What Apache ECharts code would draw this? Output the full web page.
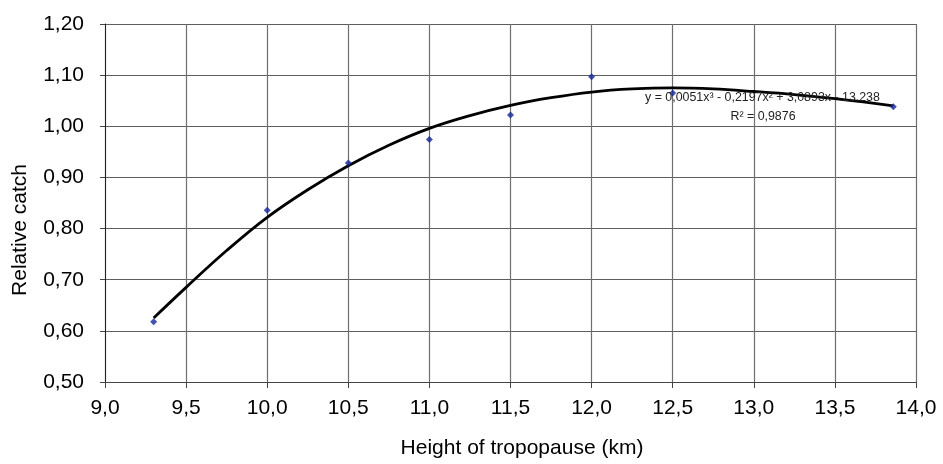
<!DOCTYPE html>
<html>
<head>
<meta charset="utf-8">
<script src="https://cdn.jsdelivr.net/npm/echarts@6/dist/echarts.min.js"></script>
<style>html,body{margin:0;padding:0;background:#fff;}#c{width:943px;height:464px;}</style>
</head>
<body>
<div id="c"></div>
<script>
// Observed points
const heights = [9.3, 10.0, 10.5, 11.0, 11.5, 12.0, 12.5, 13.86];
const catchValues = [0.618, 0.836, 0.928, 0.974, 1.022, 1.097, 1.065, 1.038];
// Polynomial trend line
const trendX = [9.3, 9.5, 9.75, 10.0, 10.25, 10.5, 10.75, 11.0, 11.25, 11.5, 11.75, 12.0, 12.25, 12.5, 12.75, 13.0, 13.25, 13.5, 13.86];
const trendY = [0.625, 0.685, 0.757, 0.822, 0.876, 0.923, 0.963, 0.996, 1.021, 1.041, 1.056, 1.067, 1.073, 1.075, 1.073, 1.068, 1.062, 1.054, 1.040];
const equationText = 'y = 0,0051x³ - 0,2197x² + 3,0893x - 13,238';
const r2Text = 'R² = 0,9876';
const xName = 'Height of tropopause (km)';
const yName = 'Relative catch';

const chart = echarts.init(document.getElementById('c'));
const font = 'Liberation Sans, Arial, sans-serif';
chart.setOption({
  animation: false,
  grid: {left: 105, right: 27, top: 24, bottom: 80},
  xAxis: {
    type: 'value', min: 9, max: 14, interval: 0.5,
    name: xName, nameLocation: 'middle', nameGap: 56,
    nameTextStyle: {fontFamily: font, fontSize: 21, color: '#000', padding: [0, 0, 0, 23]},
    axisLine: {show: true, onZero: false, lineStyle: {color: '#444', width: 1}},
    axisTick: {show: true, inside: false, length: 6, lineStyle: {color: '#444'}},
    axisLabel: {fontFamily: font, fontSize: 21, color: '#000', margin: 16,
      formatter: v => v.toFixed(1).replace('.', ',')},
    splitLine: {show: true, lineStyle: {color: '#6e6e6e', width: 1.2}}
  },
  yAxis: {
    type: 'value', min: 0.5, max: 1.2, interval: 0.1,
    axisLine: {show: true, lineStyle: {color: '#222', width: 1}},
    axisTick: {show: true, inside: false, length: 5, lineStyle: {color: '#444'}},
    axisLabel: {fontFamily: font, fontSize: 21, color: '#000', margin: 21,
      formatter: v => v.toFixed(2).replace('.', ',')},
    splitLine: {show: true, lineStyle: {color: '#5e5e5e', width: 1.2}}
  },
  graphic: [
    {type: 'text', x: 20, y: 230, rotation: Math.PI / 2, style: {text: yName, fontFamily: font, fontSize: 21, fill: '#000', align: 'center', verticalAlign: 'middle'}},
    {type: 'text', left: 645, top: 92, z: 100, style: {text: equationText, fontFamily: font, fontSize: 12.4, fill: '#222'}},
    {type: 'text', x: 763, y: 111, z: 100, style: {text: r2Text, fontFamily: font, fontSize: 12.4, fill: '#222', align: 'center'}}
  ],
  series: [
    {
      type: 'line', data: trendX.map((x, i) => [x, trendY[i]]), smooth: 0.4,
      showSymbol: false, lineStyle: {color: '#000', width: 2.8}, z: 3
    },
    {
      type: 'scatter', data: heights.map((x, i) => [x, catchValues[i]]),
      symbol: 'diamond', symbolSize: 7, itemStyle: {color: '#14279a'}, z: 4
    }
  ]
});
</script>
</body>
</html>
